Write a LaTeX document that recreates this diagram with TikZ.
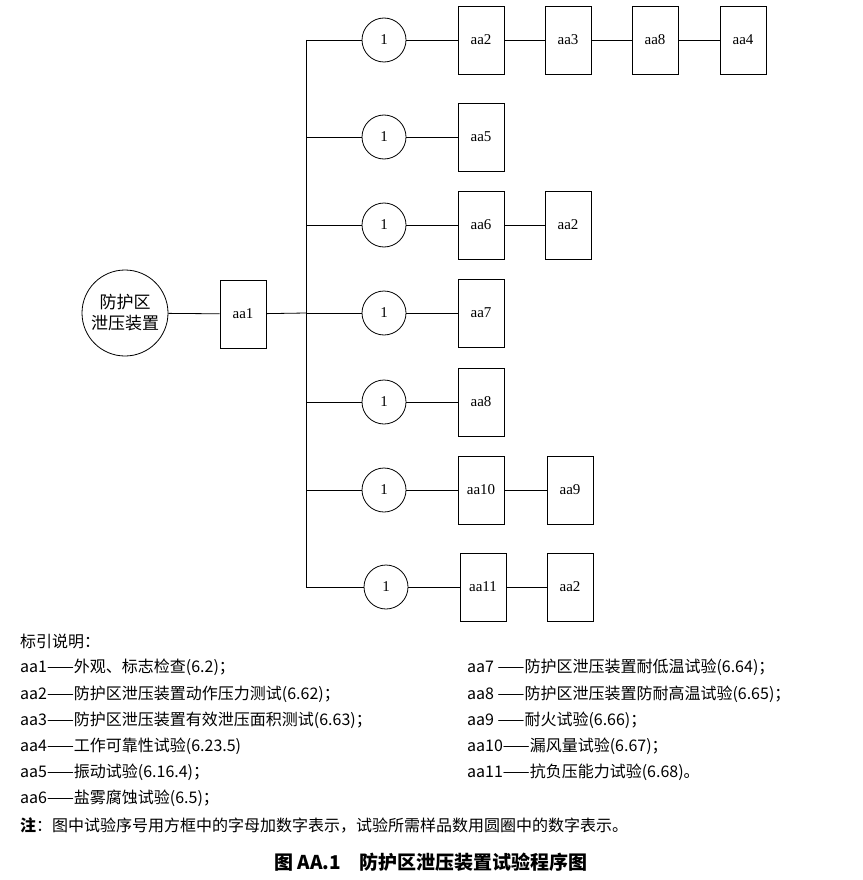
\documentclass[tikz,border=0pt]{standalone}
\usepackage{fontspec}
\setmainfont{Liberation Serif}
\newfontfamily\cjk{Noto Sans CJK SC}
\begin{document}
\begin{tikzpicture}[x=1pt,y=-1pt,
 box/.style={draw,thick,minimum width=46pt,minimum height=68pt,inner sep=0pt,font=\fontsize{15}{15}\selectfont},
 sc/.style={draw,thick,circle,minimum size=44pt,inner sep=0pt,font=\fontsize{15}{15}\selectfont},
 ln/.style={thick},
 lg/.style={anchor=west,inner sep=0pt,font=\cjk\fontsize{16}{16}\selectfont}]
\useasboundingbox (0,0) rectangle (862,880);
\node[draw,thick,circle,minimum size=86pt,inner sep=0pt,align=center,font=\cjk\fontsize{17}{21}\selectfont] (root) at (125,313) {防护区\\泄压装置};
\node[box] (aa1) at (243,314) {aa1};
\coordinate (t1) at (306,40); \coordinate (t7) at (306,587); \coordinate (tm) at (306,313);
\draw[ln] (root) -- (aa1); \draw[ln] (aa1) -- (tm); \draw[ln] (t1) -- (t7);
\foreach \n/\y/\cx in {1/40/384,2/137/384,3/225/384,4/313/384,5/402/384,6/490/384,7/587/386}{
  \node[sc] (c\n) at (\cx,\y) {1};
  \coordinate (j\n) at (306,\y);
  \draw[ln] (j\n) -- (c\n);
}
\node[box] (r1a) at (481,40) {aa2};
\node[box] (r1b) at (568,40) {aa3};
\node[box] (r1c) at (655,40) {aa8};
\node[box] (r1d) at (743,40) {aa4};
\draw[ln] (c1) -- (r1a) -- (r1b) -- (r1c) -- (r1d);
\node[box] (r2a) at (481,137) {aa5}; \draw[ln] (c2) -- (r2a);
\node[box] (r3a) at (481,225) {aa6}; \node[box] (r3b) at (568,225) {aa2}; \draw[ln] (c3) -- (r3a) -- (r3b);
\node[box] (r4a) at (481,313) {aa7}; \draw[ln] (c4) -- (r4a);
\node[box] (r5a) at (481,402) {aa8}; \draw[ln] (c5) -- (r5a);
\node[box] (r6a) at (481,490) {aa10}; \node[box] (r6b) at (570,490) {aa9}; \draw[ln] (c6) -- (r6a) -- (r6b);
\node[box] (r7a) at (483,587) {aa11}; \node[box] (r7b) at (570,587) {aa2}; \draw[ln] (c7) -- (r7a) -- (r7b);
\node[lg] (l0) at (20,641) {标引说明：};
\node[lg] (l1) at (20,667) {aa1——外观、标志检查(6.2)；};
\node[lg] (l2) at (20,694) {aa2——防护区泄压装置动作压力测试(6.62)；};
\node[lg] (l3) at (20,720) {aa3——防护区泄压装置有效泄压面积测试(6.63)；};
\node[lg] (l4) at (20,746) {aa4——工作可靠性试验(6.23.5)};
\node[lg] (l5) at (20,772) {aa5——振动试验(6.16.4)；};
\node[lg] (l6) at (20,798) {aa6——盐雾腐蚀试验(6.5)；};
\node[lg] (r7) at (467,667) {aa7 ——防护区泄压装置耐低温试验(6.64)；};
\node[lg] (r8) at (467,694) {aa8 ——防护区泄压装置防耐高温试验(6.65)；};
\node[lg] (r9) at (467,720) {aa9 ——耐火试验(6.66)；};
\node[lg] (r10) at (467,746) {aa10——漏风量试验(6.67)；};
\node[lg] (r11) at (467,772) {aa11——抗负压能力试验(6.68)。};
\node[lg] (note) at (20,825) {\textbf{注}：图中试验序号用方框中的字母加数字表示，试验所需样品数用圆圈中的数字表示。};
\node[font=\cjk\bfseries\fontsize{19}{19}\selectfont,inner sep=0pt] (cap) at (431,862) {图 AA.1\quad 防护区泄压装置试验程序图};
\end{tikzpicture}
\end{document}
